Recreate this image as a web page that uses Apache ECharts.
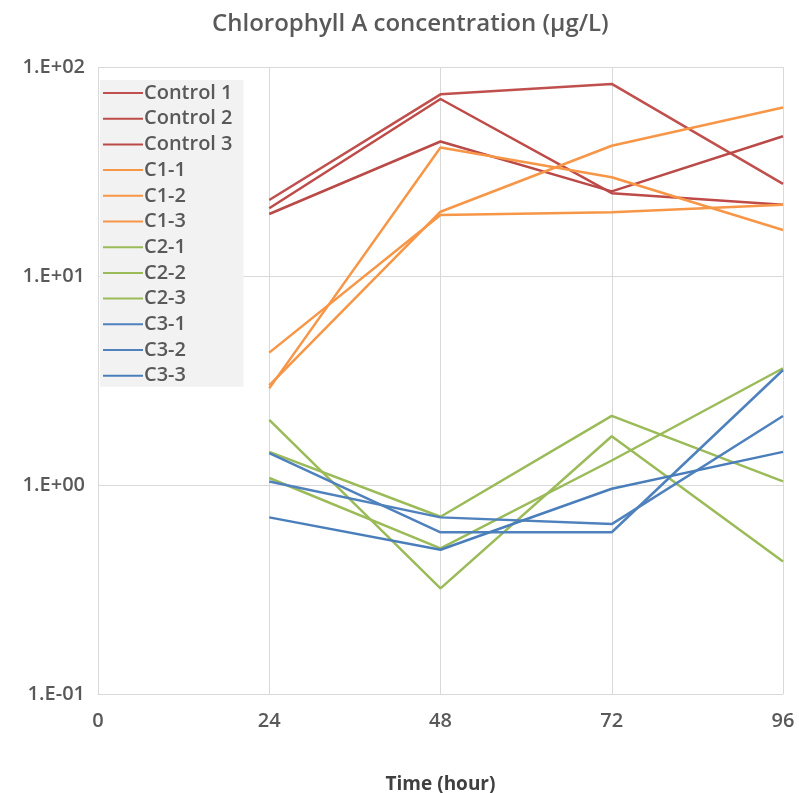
<!DOCTYPE html>
<html>
<head>
<meta charset="utf-8">
<script src="https://cdn.jsdelivr.net/npm/echarts@6/dist/echarts.min.js"></script>
<style>html,body{margin:0;padding:0;background:#fff}#c{width:799px;height:793px}</style>
</head>
<body>
<div id="c"></div>
<script>
const times = [24, 48, 72, 96];
const seriesNames = ['Control 1','Control 2','Control 3','C1-1','C1-2','C1-3','C2-1','C2-2','C2-3','C3-1','C3-2','C3-3'];
const control1 = [23.1, 74, 83, 27.6];
const control2 = [21.1, 70.3, 24.9, 21.9];
const control3 = [19.8, 44, 25.4, 46.6];
const c1_1 = [2.9, 41.2, 29.7, 16.6];
const c1_2 = [3.0, 20.3, 42, 64];
const c1_3 = [4.3, 19.6, 20.2, 21.9];
const c2_1 = [2.05, 0.32, 1.71, 0.43];
const c2_2 = [1.44, 0.705, 2.14, 1.04];
const c2_3 = [1.08, 0.497, 1.31, 3.62];
const c3_1 = [1.42, 0.594, 0.594, 3.55];
const c3_2 = [1.04, 0.70, 0.65, 2.14];
const c3_3 = [0.70, 0.49, 0.96, 1.44];
const yTicks = {0.1:'1.E-01', 1:'1.E+00', 10:'1.E+01', 100:'1.E+02'};
const allValues = [control1, control2, control3, c1_1, c1_2, c1_3, c2_1, c2_2, c2_3, c3_1, c3_2, c3_3];
const colors = ['#C0504D','#BE4B48','#BA4A47','#F79646','#F79646','#F79646','#9BBB59','#9BBB59','#9BBB59','#4F81BD','#4F81BD','#4A7EBB'];

const chart = echarts.init(document.getElementById('c'));
const font = '"Open Sans", "Liberation Sans", sans-serif';
chart.setOption({
  animation: false,
  title: {
    text: 'Chlorophyll A concentration (µg/L)',
    left: 207, top: 7,
    textStyle: {fontFamily: font, fontSize: 24, fontWeight: 600, color: '#595959'}
  },
  legend: {
    orient: 'vertical', left: 100, top: 80,
    padding: [3, 11, 1, 3],
    backgroundColor: '#F2F2F2',
    itemWidth: 40, itemHeight: 14, itemGap: 5.7,
    icon: 'path://M0,6 L40,6 L40,8 L0,8 Z',
    textStyle: {fontFamily: font, fontSize: 20, lineHeight: 20, fontWeight: 600, color: '#595959', padding: [0,0,0,-4]},
    data: seriesNames
  },
  grid: {left: 98, right: 16, top: 67, bottom: 99, outerBoundsMode: 'none'},
  xAxis: {
    type: 'value', min: 0, max: 96, interval: 24,
    name: 'Time (hour)', nameLocation: 'middle', nameGap: 81,
    nameTextStyle: {fontFamily: font, fontSize: 19, fontWeight: 700, color: '#404040'},
    axisLine: {show: true, lineStyle: {color: '#D9D9D9'}},
    axisTick: {show: false},
    axisLabel: {fontFamily: font, fontSize: 20, fontWeight: 600, color: '#595959', margin: 17},
    splitLine: {show: true, lineStyle: {color: '#D9D9D9', width: 1}}
  },
  yAxis: {
    type: 'log', logBase: 10, min: 0.1, max: 100,
    axisLine: {show: false}, axisTick: {show: false},
    axisLabel: {fontFamily: font, fontSize: 20, fontWeight: 600, color: '#595959', margin: 13,
      formatter: v => yTicks[Math.round(v*1000)/1000] || ''},
    splitLine: {show: true, lineStyle: {color: '#D9D9D9', width: 1}}
  },
  series: seriesNames.map((n, i) => ({
    name: n, type: 'line', showSymbol: false, symbol: 'none',
    data: times.map((t, j) => [t, allValues[i][j]]),
    lineStyle: {width: 2.5, color: colors[i]},
    itemStyle: {color: colors[i]}
  }))
});
</script>
</body>
</html>
